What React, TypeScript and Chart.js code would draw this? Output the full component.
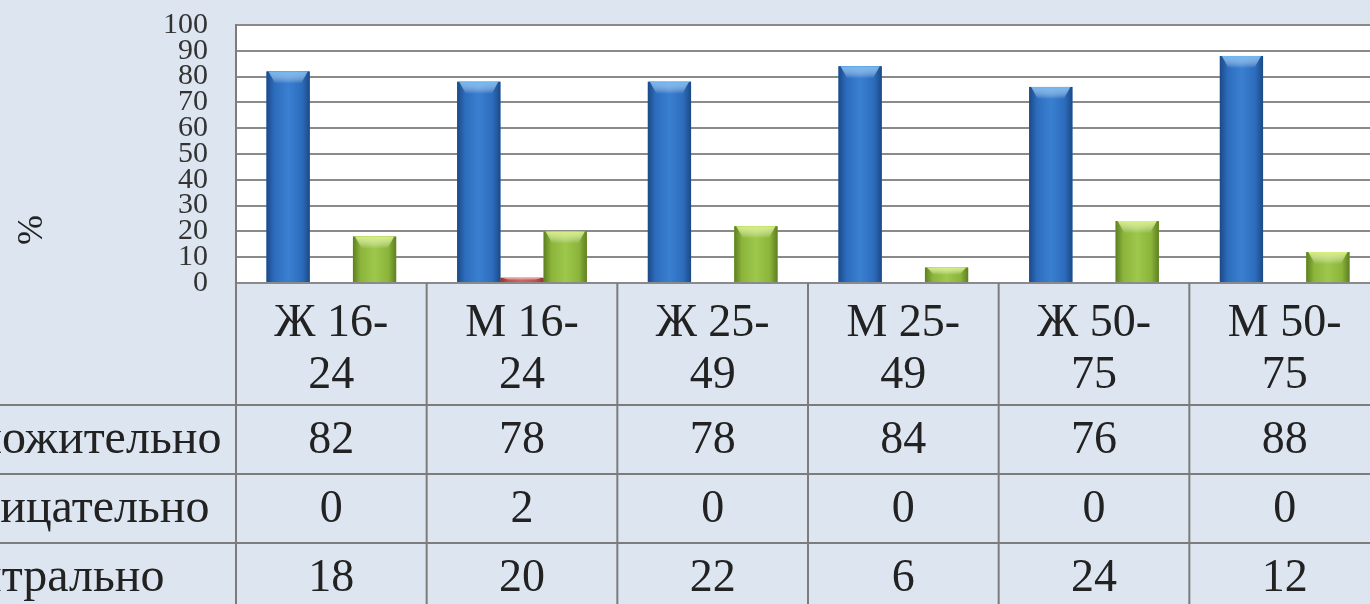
import { useEffect, useRef } from "react";
import { Chart, registerables } from "chart.js";

Chart.register(...registerables);

// ---- data ----
const categories: string[][] = [
  ["Ж 16-", "24"],
  ["М 16-", "24"],
  ["Ж 25-", "49"],
  ["М 25-", "49"],
  ["Ж 50-", "75"],
  ["М 50-", "75"],
];
const seriesNames = ["Положительно", "Отрицательно", "Нейтрально"];
const positive = [82, 78, 78, 84, 76, 88];
const negative = [0, 2, 0, 0, 0, 0];
const neutral = [18, 20, 22, 6, 24, 12];
const yAxisTitle = "%";
const yMin = 0;
const yMax = 100;
const yStep = 10;

// ---- styles ----
const FONT = "'Liberation Serif', 'Times New Roman', serif";
const BG = "#dde6f0";
const LINE = "#7c7c7c";
const TEXT = "#222222";
const HEADER_H = 122;
const ROW_H = 69;
const seriesColors = [
  { base: "#2d6cbd", edge: "#1b4a86", mid: "#3a80d0", top: "#6fb6f0" },
  { base: "#c0504d", edge: "#8f3532", mid: "#d06560", top: "#e8a09c" },
  { base: "#8bb53a", edge: "#5e7f22", mid: "#9ec84c", top: "#d6f07a" },
];

const backgroundPlugin = {
  id: "bgPlugin",
  beforeDraw(chart: any) {
    const { ctx, chartArea } = chart;
    ctx.save();
    ctx.fillStyle = BG;
    ctx.fillRect(0, 0, chart.width, chart.height);
    ctx.fillStyle = "#ffffff";
    ctx.fillRect(chartArea.left, chartArea.top, chartArea.right - chartArea.left, chartArea.bottom - chartArea.top);
    ctx.restore();
  },
};

const barShadePlugin = {
  id: "barShade",
  afterDatasetsDraw(chart: any) {
    const ctx = chart.ctx;
    chart.data.datasets.forEach((_: any, di: number) => {
      const meta = chart.getDatasetMeta(di);
      const c = seriesColors[di];
      meta.data.forEach((el: any) => {
        const p = el.getProps(["x", "y", "base", "width"], true);
        const h = p.base - p.y;
        if (h < 0.5) return;
        const left = p.x - p.width / 2;
        ctx.save();
        const g = ctx.createLinearGradient(left, 0, left + p.width, 0);
        g.addColorStop(0, c.edge);
        g.addColorStop(0.18, c.base);
        g.addColorStop(0.5, c.mid);
        g.addColorStop(0.82, c.base);
        g.addColorStop(1, c.edge);
        ctx.fillStyle = g;
        ctx.fillRect(left, p.y, p.width, h);
        const th = Math.min(12, h * 0.5);
        const g2 = ctx.createLinearGradient(0, p.y, 0, p.y + th);
        g2.addColorStop(0, c.top);
        g2.addColorStop(1, "rgba(255,255,255,0)");
        ctx.fillStyle = g2;
        ctx.beginPath();
        ctx.moveTo(left + 2, p.y);
        ctx.lineTo(left + p.width - 2, p.y);
        ctx.lineTo(left + p.width * 0.8, p.y + th);
        ctx.lineTo(left + p.width * 0.2, p.y + th);
        ctx.closePath();
        ctx.fill();
        ctx.restore();
      });
    });
  },
};

const tablePlugin = {
  id: "dataTable",
  afterDraw(chart: any) {
    const { ctx, chartArea } = chart;
    const xs = chart.scales.x;
    const n = categories.length;
    const half = (xs.getPixelForValue(1) - xs.getPixelForValue(0)) / 2;
    const headTop = chartArea.bottom;
    const rowsTop = headTop + HEADER_H;
    const rows = [positive, negative, neutral];
    ctx.save();
    ctx.strokeStyle = LINE;
    ctx.lineWidth = 2;
    for (let r = 0; r <= rows.length; r++) {
      const y = rowsTop + r * ROW_H;
      ctx.beginPath();
      ctx.moveTo(0, y);
      ctx.lineTo(chart.width, y);
      ctx.stroke();
    }
    ctx.beginPath();
    ctx.moveTo(chartArea.left, chartArea.top);
    ctx.lineTo(chartArea.left, chart.height);
    ctx.stroke();
    for (let i = 0; i < n; i++) {
      const xr = xs.getPixelForValue(i) + half;
      ctx.beginPath();
      ctx.moveTo(xr, headTop);
      ctx.lineTo(xr, chart.height);
      ctx.stroke();
    }
    ctx.fillStyle = TEXT;
    ctx.textBaseline = "middle";
    rows.forEach((vals, r) => {
      const yc = rowsTop + r * ROW_H + ROW_H / 2 + 1;
      ctx.textAlign = "left";
      ctx.font = `48px ${FONT}`;
      ctx.fillText(seriesNames[r], 10, yc);
      ctx.textAlign = "center";
      ctx.font = `46px ${FONT}`;
      vals.forEach((v, i) => {
        ctx.fillText(String(v), xs.getPixelForValue(i), yc);
      });
    });
    ctx.save();
    ctx.translate(123, 230);
    ctx.rotate(-Math.PI / 2);
    ctx.textAlign = "center";
    ctx.textBaseline = "middle";
    ctx.font = `36px ${FONT}`;
    ctx.fillText(yAxisTitle, 0, 0);
    ctx.restore();
    ctx.restore();
  },
};

export default function App() {
  const ref = useRef<HTMLCanvasElement | null>(null);
  useEffect(() => {
    if (!ref.current) return;
    const chart = new Chart(ref.current, {
      type: "bar",
      data: {
        labels: categories,
        datasets: [
          { label: seriesNames[0], data: positive, backgroundColor: seriesColors[0].base },
          { label: seriesNames[1], data: negative, backgroundColor: seriesColors[1].base },
          { label: seriesNames[2], data: neutral, backgroundColor: seriesColors[2].base },
        ],
      },
      options: {
        responsive: false,
        animation: false,
        layout: { padding: { top: 25, left: 0, right: 0, bottom: 604 - 283 - HEADER_H } },
        datasets: { bar: { categoryPercentage: 0.68, barPercentage: 1.0 } },
        plugins: { legend: { display: false }, tooltip: { enabled: false } },
        scales: {
          x: {
            grid: { display: false },
            border: { display: false },
            ticks: {
              color: TEXT,
              font: { family: FONT, size: 46, lineHeight: 1.15 },
              padding: 6,
              maxRotation: 0,
              minRotation: 0,
              autoSkip: false,
            },
            afterFit: (axis: any) => {
              axis.height = HEADER_H;
            },
          },
          y: {
            min: yMin,
            max: yMax,
            grid: { color: "#8a8a8a", lineWidth: 2, drawTicks: true, tickLength: 28, tickColor: "rgba(0,0,0,0)" },
            border: { display: true, color: LINE, width: 2 },
            ticks: {
              stepSize: yStep,
              autoSkip: false,
              color: "#333333",
              font: { family: FONT, size: 30, lineHeight: 1 },
              padding: 0,
            },
            afterFit: (axis: any) => {
              axis.width = 326;
            },
          },
        },
      },
      plugins: [backgroundPlugin, barShadePlugin, tablePlugin],
    });
    return () => chart.destroy();
  }, []);
  return (
    <div style={{ position: "fixed", left: -90, top: 0, width: 1470, height: 604, overflow: "hidden", background: BG }}>
      <canvas ref={ref} width={1470} height={604} style={{ display: "block" }} />
    </div>
  );
}
